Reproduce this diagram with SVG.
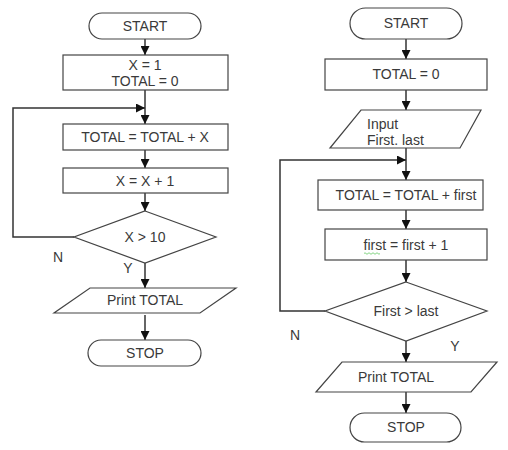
<svg xmlns="http://www.w3.org/2000/svg" width="508" height="450" viewBox="0 0 508 450">
<defs>
<marker id="ah" viewBox="0 0 10 10" refX="10" refY="5" markerWidth="9" markerHeight="9" markerUnits="userSpaceOnUse" orient="auto">
<path d="M0,0 L10,5 L0,10 z" fill="#111"/>
</marker>
<style>
.s{fill:#fff;stroke:#444;stroke-width:1.2}
.c{fill:none;stroke:#333;stroke-width:1.5}
.a{marker-end:url(#ah)}
text{font-family:"Liberation Sans",Arial,sans-serif;font-size:14px;fill:#3a3a3a;text-anchor:middle}
.l{text-anchor:start}
</style>
</defs>
<rect width="508" height="450" fill="#fff"/>
<g id="connectors">
<line class="c a" x1="145" y1="39" x2="145" y2="55"/>
<line class="c a" x1="145" y1="90" x2="145" y2="124"/>
<polyline class="c a" points="74,237 13,237 13,108 145,108"/>
<line class="c a" x1="145" y1="150" x2="145" y2="168"/>
<line class="c a" x1="145" y1="193" x2="145" y2="211"/>
<line class="c a" x1="145" y1="263" x2="145" y2="288"/>
<line class="c a" x1="145" y1="315" x2="145" y2="340"/>
<line class="c a" x1="406" y1="39" x2="406" y2="59"/>
<line class="c a" x1="406" y1="90" x2="406" y2="110"/>
<line class="c a" x1="406" y1="148" x2="406" y2="180"/>
<polyline class="c a" points="325,311 280,311 280,160 406,160"/>
<line class="c a" x1="406" y1="210" x2="406" y2="229"/>
<line class="c a" x1="406" y1="260" x2="406" y2="282"/>
<line class="c a" x1="406" y1="341" x2="406" y2="362"/>
<line class="c a" x1="406" y1="392" x2="406" y2="413"/>
</g>
<g id="start1"><rect class="s" x="89" y="13" width="112" height="26" rx="13"/><text x="145" y="31">START</text></g>
<g id="init1"><rect class="s" x="63" y="55" width="165" height="35"/><text x="145" y="70">X = 1</text><text x="145" y="86">TOTAL = 0</text></g>
<g id="sum1"><rect class="s" x="63" y="124" width="165" height="26"/><text x="145" y="142">TOTAL = TOTAL + X</text></g>
<g id="inc1"><rect class="s" x="63" y="168" width="165" height="25"/><text x="145" y="186">X = X + 1</text></g>
<g id="dec1"><polygon class="s" points="145,211 216,237 145,263 74,237"/><text x="145" y="242">X &gt; 10</text></g>
<g id="print1"><polygon class="s" points="90,288 236,288 200,313 54,313"/><text x="145" y="305">Print TOTAL</text></g>
<g id="stop1"><rect class="s" x="88" y="340" width="113" height="26" rx="13"/><text x="145" y="358">STOP</text></g>
<text x="58" y="262">N</text>
<text x="128" y="273">Y</text>
<g id="start2"><rect class="s" x="350" y="8" width="112" height="31" rx="15.5"/><text x="406" y="28">START</text></g>
<g id="init2"><rect class="s" x="325" y="59" width="162" height="31"/><text x="406" y="79">TOTAL = 0</text></g>
<g id="input2"><polygon class="s" points="361,110 481,110 460,148 330,148"/><text class="l" x="367" y="129">Input</text><text class="l" x="367" y="145">First. last</text></g>
<g id="sum2"><rect class="s" x="318" y="180" width="165" height="30"/><text x="406" y="200">TOTAL = TOTAL + first</text></g>
<g id="inc2"><rect class="s" x="325" y="229" width="162" height="31"/><text x="406" y="250">first = first + 1</text><path d="M364,253.5 q1,-1.5 2,0 t2,0 t2,0 t2,0 t2,0 t2,0 t2,0 t2,0" fill="none" stroke="#6c6" stroke-width="0.8"/></g>
<g id="dec2"><polygon class="s" points="406,282 487,311 406,341 325,311"/><text x="406" y="316">First &gt; last</text></g>
<g id="print2"><polygon class="s" points="342,362 497,362 471,392 316,392"/><text x="396" y="382">Print TOTAL</text></g>
<g id="stop2"><rect class="s" x="350" y="413" width="111" height="29" rx="14.5"/><text x="406" y="432">STOP</text></g>
<text x="295" y="340">N</text>
<text x="455" y="351">Y</text>
</svg>
